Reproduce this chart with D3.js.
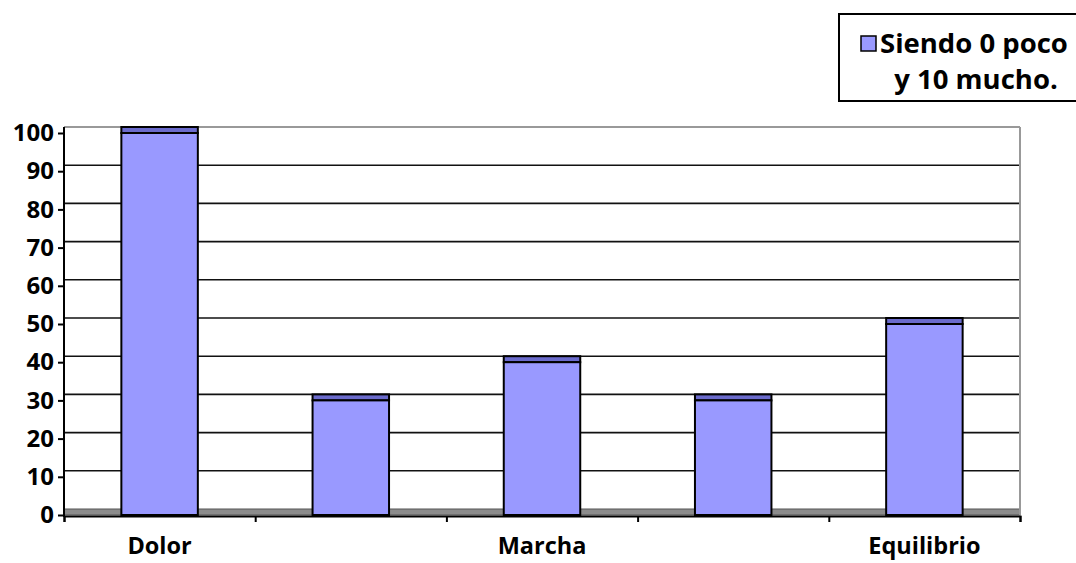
<!DOCTYPE html>
<html>
<head>
<meta charset="utf-8">
<script src="https://cdn.jsdelivr.net/npm/d3@7"></script>
<style>
  body { margin: 0; background: #fff; }
  text { font-family: "Open Sans", "DejaVu Sans", sans-serif; font-weight: bold; fill: #000; }
</style>
</head>
<body>
<svg id="chart" width="1076" height="563"></svg>
<script>
// only every other category name is visible in the picture
const categories = ["Dolor", "", "Marcha", "", "Equilibrio"];
const values = [100, 30, 40, 30, 50];
const yTicks = [0, 10, 20, 30, 40, 50, 60, 70, 80, 90, 100];
const legendLines = ["Siendo 0 poco", "y 10 mucho."];

const svg = d3.select("#chart");
const plotLeft = 64, plotRight = 1020, plotTop = 133, plotBottom = 515;
const depth = 6; // 3d back wall offset

const x = d3.scaleBand()
  .domain(d3.range(categories.length))
  .range([plotLeft, plotRight])
  .paddingInner(0.6)
  .paddingOuter(0.3);

const xEdge = d3.scaleLinear().domain([0, categories.length]).range([plotLeft, plotRight]);

const y = d3.scaleLinear().domain([0, 100]).range([plotBottom, plotTop]);

// floor
svg.append("rect")
  .attr("x", plotLeft).attr("y", y(0) - depth)
  .attr("width", plotRight - plotLeft).attr("height", depth)
  .attr("fill", "#8c8c8c")
  .attr("stroke", "#555").attr("stroke-width", 1);

// back wall gridlines
yTicks.filter(t => t > 0 && t < 100).forEach(t => {
  svg.append("line")
    .attr("x1", plotLeft).attr("x2", plotRight)
    .attr("y1", y(t) - depth).attr("y2", y(t) - depth)
    .attr("stroke", "#111").attr("stroke-width", 1.6);
});

// wall top + right edge
svg.append("line")
  .attr("x1", plotLeft).attr("x2", plotRight)
  .attr("y1", y(100) - depth).attr("y2", y(100) - depth)
  .attr("stroke", "#999").attr("stroke-width", 2);
svg.append("line")
  .attr("x1", plotRight).attr("x2", plotRight)
  .attr("y1", y(100) - depth).attr("y2", y(0))
  .attr("stroke", "#999").attr("stroke-width", 2);

// bars: top face + front face
const bars = svg.append("g");
values.forEach((v, i) => {
  bars.append("rect")
    .attr("x", x(i)).attr("y", y(v) - depth)
    .attr("width", x.bandwidth()).attr("height", depth)
    .attr("fill", "#6b6bcc")
    .attr("stroke", "#000").attr("stroke-width", 2);
  bars.append("rect")
    .attr("x", x(i)).attr("y", y(v))
    .attr("width", x.bandwidth()).attr("height", y(0) - y(v))
    .attr("fill", "#9999ff")
    .attr("stroke", "#000").attr("stroke-width", 2);
});

// y axis
const yAxis = svg.append("g")
  .attr("transform", `translate(${plotLeft},0)`)
  .call(d3.axisLeft(y).tickValues(yTicks).tickSize(6).tickPadding(4));
yAxis.select(".domain").attr("stroke", "#000").attr("stroke-width", 2)
  .attr("d", `M-0,${y(100) - depth}V${y(0) + 2}`);
yAxis.selectAll(".tick line").attr("stroke", "#000").attr("stroke-width", 2);
yAxis.selectAll("text").style("font-size", "24px").attr("fill", "#000");

// x axis
const xAxis = svg.append("g")
  .attr("transform", `translate(0,${y(0) + 1})`)
  .call(d3.axisBottom(xEdge).tickValues(d3.range(categories.length + 1)).tickSize(6).tickFormat(""));
xAxis.select(".domain").attr("stroke", "#000").attr("stroke-width", 2);
xAxis.selectAll(".tick line").attr("stroke", "#000").attr("stroke-width", 2);

svg.append("g").selectAll("text")
  .data(categories)
  .join("text")
  .attr("x", (d, i) => x(i) + x.bandwidth() / 2)
  .attr("y", 554)
  .attr("text-anchor", "middle")
  .style("font-size", "23.5px")
  .text(d => d);

// legend
const lg = svg.append("g");
lg.append("rect")
  .attr("x", 839).attr("y", 14).attr("width", 260).attr("height", 87)
  .attr("fill", "#fff").attr("stroke", "#000").attr("stroke-width", 2);
lg.append("rect")
  .attr("x", 861).attr("y", 36).attr("width", 15).attr("height", 15)
  .attr("fill", "#9999ff").attr("stroke", "#000").attr("stroke-width", 1.5);
lg.selectAll("text.l")
  .data(legendLines)
  .join("text")
  .attr("class", "l")
  .attr("x", (d, i) => i === 0 ? 880 : 976)
  .attr("y", (d, i) => 53 + i * 36)
  .attr("text-anchor", (d, i) => i === 0 ? "start" : "middle")
  .style("font-size", "27.5px")
  .text(d => d);
</script>
</body>
</html>
